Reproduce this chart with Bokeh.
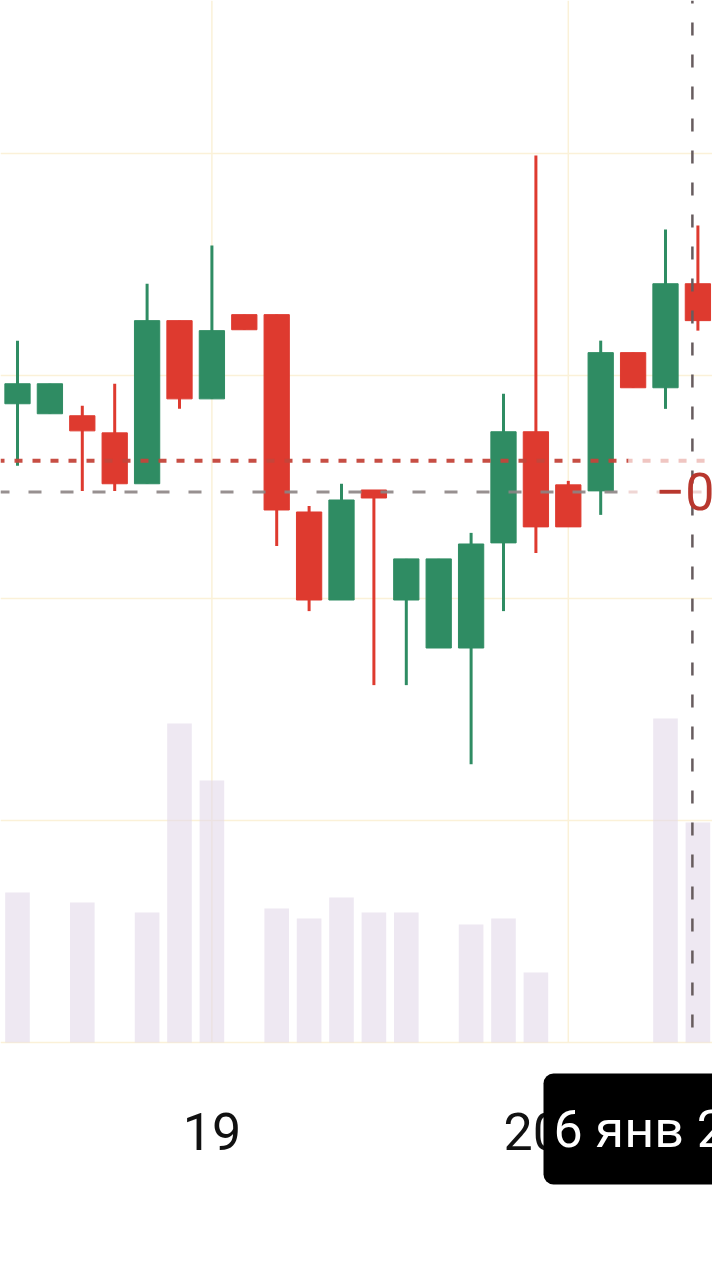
from bokeh.plotting import figure
from bokeh.models import Range1d, FixedTicker, Grid, Label
from bokeh.core.properties import value
from bokeh.embed import file_html
from bokeh.resources import INLINE

# ---------------- data ----------------
candle_idx = list(range(22))
opens  = [118.74, 118.29, 118.20, 117.43, 115.14, 122.48, 118.96, 122.75, 122.75, 113.87, 109.91,
          114.86, 109.91, 107.75, 107.75, 112.48, 117.48, 115.09, 114.82, 121.04, 119.46, 124.14]
closes = [119.64, 119.64, 117.52, 115.14, 122.48, 118.96, 122.03, 122.07, 113.96, 109.91, 114.41,
          114.50, 111.76, 111.76, 112.43, 117.48, 113.20, 113.20, 121.04, 119.46, 124.14, 122.48]
highs  = [121.58, 119.64, 118.65, 119.64, 124.14, 122.48, 125.86, 122.75, 122.75, 114.14, 115.14,
          114.86, 111.76, 111.76, 112.93, 119.19, 129.91, 115.27, 121.58, 121.04, 126.58, 126.76]
lows   = [115.95, 118.29, 114.82, 114.82, 115.14, 118.51, 118.96, 122.07, 112.34, 109.41, 109.91,
          106.08, 106.08, 107.75, 102.52, 109.41, 112.03, 113.20, 113.74, 119.46, 118.51, 122.03]
volumes = [1500, 0, 1400, 0, 1300, 3190, 2620, 0, 1340, 1240, 1450,
           1300, 1300, 0, 1180, 1240, 700, 0, 0, 0, 3240, 2200]

red_level = 116.17          # red dotted price line
grey_level = 114.77         # grey dashed price line
fade_x = 18.86              # where the price lines fade out
cross_x = 20.83             # crosshair position
price_grid = [90, 100, 110, 120, 130]
time_grid = [6, 17]
tick_pos = [6, 15.9]
tick_labels = ["19", "20"]
tooltip_text = "6 янв 2024"
last_label = "−0"
last_label_x = 19.69

GREEN = "#2f8c63"
RED = "#de3a2f"

# ---------------- figure ----------------
W, H = 712, 1272
CHART_BOTTOM_PX = 1042          # pixel row of the chart baseline (price 90 / volume 0)
PX_PER_PRICE = 22.225
PX_PER_X = 32.4
PX_PER_VOL = 0.1
X_LO, X_HI = -17 / PX_PER_X, (W - 17) / PX_PER_X
BASE = price_grid[0]
Y_HI = BASE + CHART_BOTTOM_PX / PX_PER_PRICE
Y_LO = BASE - (H - CHART_BOTTOM_PX) / PX_PER_PRICE
V_HI = CHART_BOTTOM_PX / PX_PER_VOL
V_LO = -(H - CHART_BOTTOM_PX) / PX_PER_VOL

p = figure(width=W, height=H, x_range=Range1d(X_LO, X_HI), y_range=Range1d(Y_LO, Y_HI),
           output_backend="svg", toolbar_location=None,
           x_axis_location=None, y_axis_location=None,
           min_border=0, outline_line_color=None,
           background_fill_color="white", border_fill_color="white")
p.extra_y_ranges = {"vol": Range1d(V_LO, V_HI)}

# remove default grids
for r in list(p.center):
    if isinstance(r, Grid):
        r.visible = False

GRID_COLOR = "#fbf1d8"
p.add_layout(Grid(dimension=1, ticker=FixedTicker(ticks=price_grid),
                  grid_line_color=GRID_COLOR, grid_line_width=1.5))
p.segment(x0=time_grid, y0=[Y_HI] * len(time_grid), x1=time_grid, y1=[BASE] * len(time_grid),
          line_color=GRID_COLOR, line_width=1.5)

# volume
p.vbar(x=candle_idx, top=volumes, bottom=0, width=0.76, y_range_name="vol",
       fill_color="#e2d8ea", fill_alpha=0.6, line_color=None)

# candles
colors = [GREEN if c >= o else RED for o, c in zip(opens, closes)]
tops = [max(o, c) for o, c in zip(opens, closes)]
bots = [min(o, c) for o, c in zip(opens, closes)]
p.segment(x0=candle_idx, y0=highs, x1=candle_idx, y1=lows, line_color=colors, line_width=3)
p.vbar(x=candle_idx, top=tops, bottom=bots, width=0.78, fill_color=colors, line_color=colors,
       line_width=1)

# price lines
p.segment(x0=[X_LO], y0=[red_level], x1=[fade_x], y1=[red_level], line_color="#c4443a",
          line_width=4, line_dash="8 10", line_dash_offset=4, line_alpha=0.95)
p.segment(x0=[fade_x], y0=[red_level], x1=[X_HI], y1=[red_level], line_color="#f0c6c2",
          line_width=4, line_dash="8 10", line_dash_offset=4)
p.segment(x0=[X_LO], y0=[grey_level], x1=[fade_x], y1=[grey_level], line_color="#8c8484",
          line_width=3, line_dash="13 19", line_dash_offset=4, line_alpha=0.9)
p.segment(x0=[fade_x], y0=[grey_level], x1=[X_HI], y1=[grey_level], line_color="#efd6d4",
          line_width=3, line_dash="13 19", line_dash_offset=4)

# crosshair
p.segment(x0=[cross_x], y0=[Y_HI], x1=[cross_x], y1=[BASE + 0.3], line_color="#675c5e",
          line_width=2.5, line_dash="13 19", line_dash_offset=10)

# price label at the right edge
p.text(x=[last_label_x], y=[grey_level], text=[last_label], text_color="#b8372e",
       text_font=value("Roboto"), text_font_size="52px", text_align="left",
       text_baseline="middle")

# time-axis labels
label_y = BASE - 89 / PX_PER_PRICE
p.text(x=tick_pos, y=[label_y] * len(tick_pos), text=tick_labels, text_color="#111111",
       text_font=value("Roboto"), text_font_size="52px", text_align="center",
       text_baseline="middle")

# crosshair time label: black rounded box + white text
tip_y = BASE - 86.5 / PX_PER_PRICE
tip_box = Label(x=(543 - 17) / PX_PER_X, y=tip_y, text=tooltip_text,
                text_align="left", text_baseline="middle", text_color="black", text_font="Roboto",
                text_font_size="52px", background_fill_color="black", background_fill_alpha=1.0,
                border_radius=10, padding=25, level="overlay")
tip_txt = Label(x=(553 - 17) / PX_PER_X, y=tip_y, text=tooltip_text,
                text_align="left", text_baseline="middle", text_color="white", text_font="Roboto",
                text_font_size="52px", level="overlay")
p.add_layout(tip_box)
p.add_layout(tip_txt)

open("out.html", "w").write(file_html(p, INLINE))
